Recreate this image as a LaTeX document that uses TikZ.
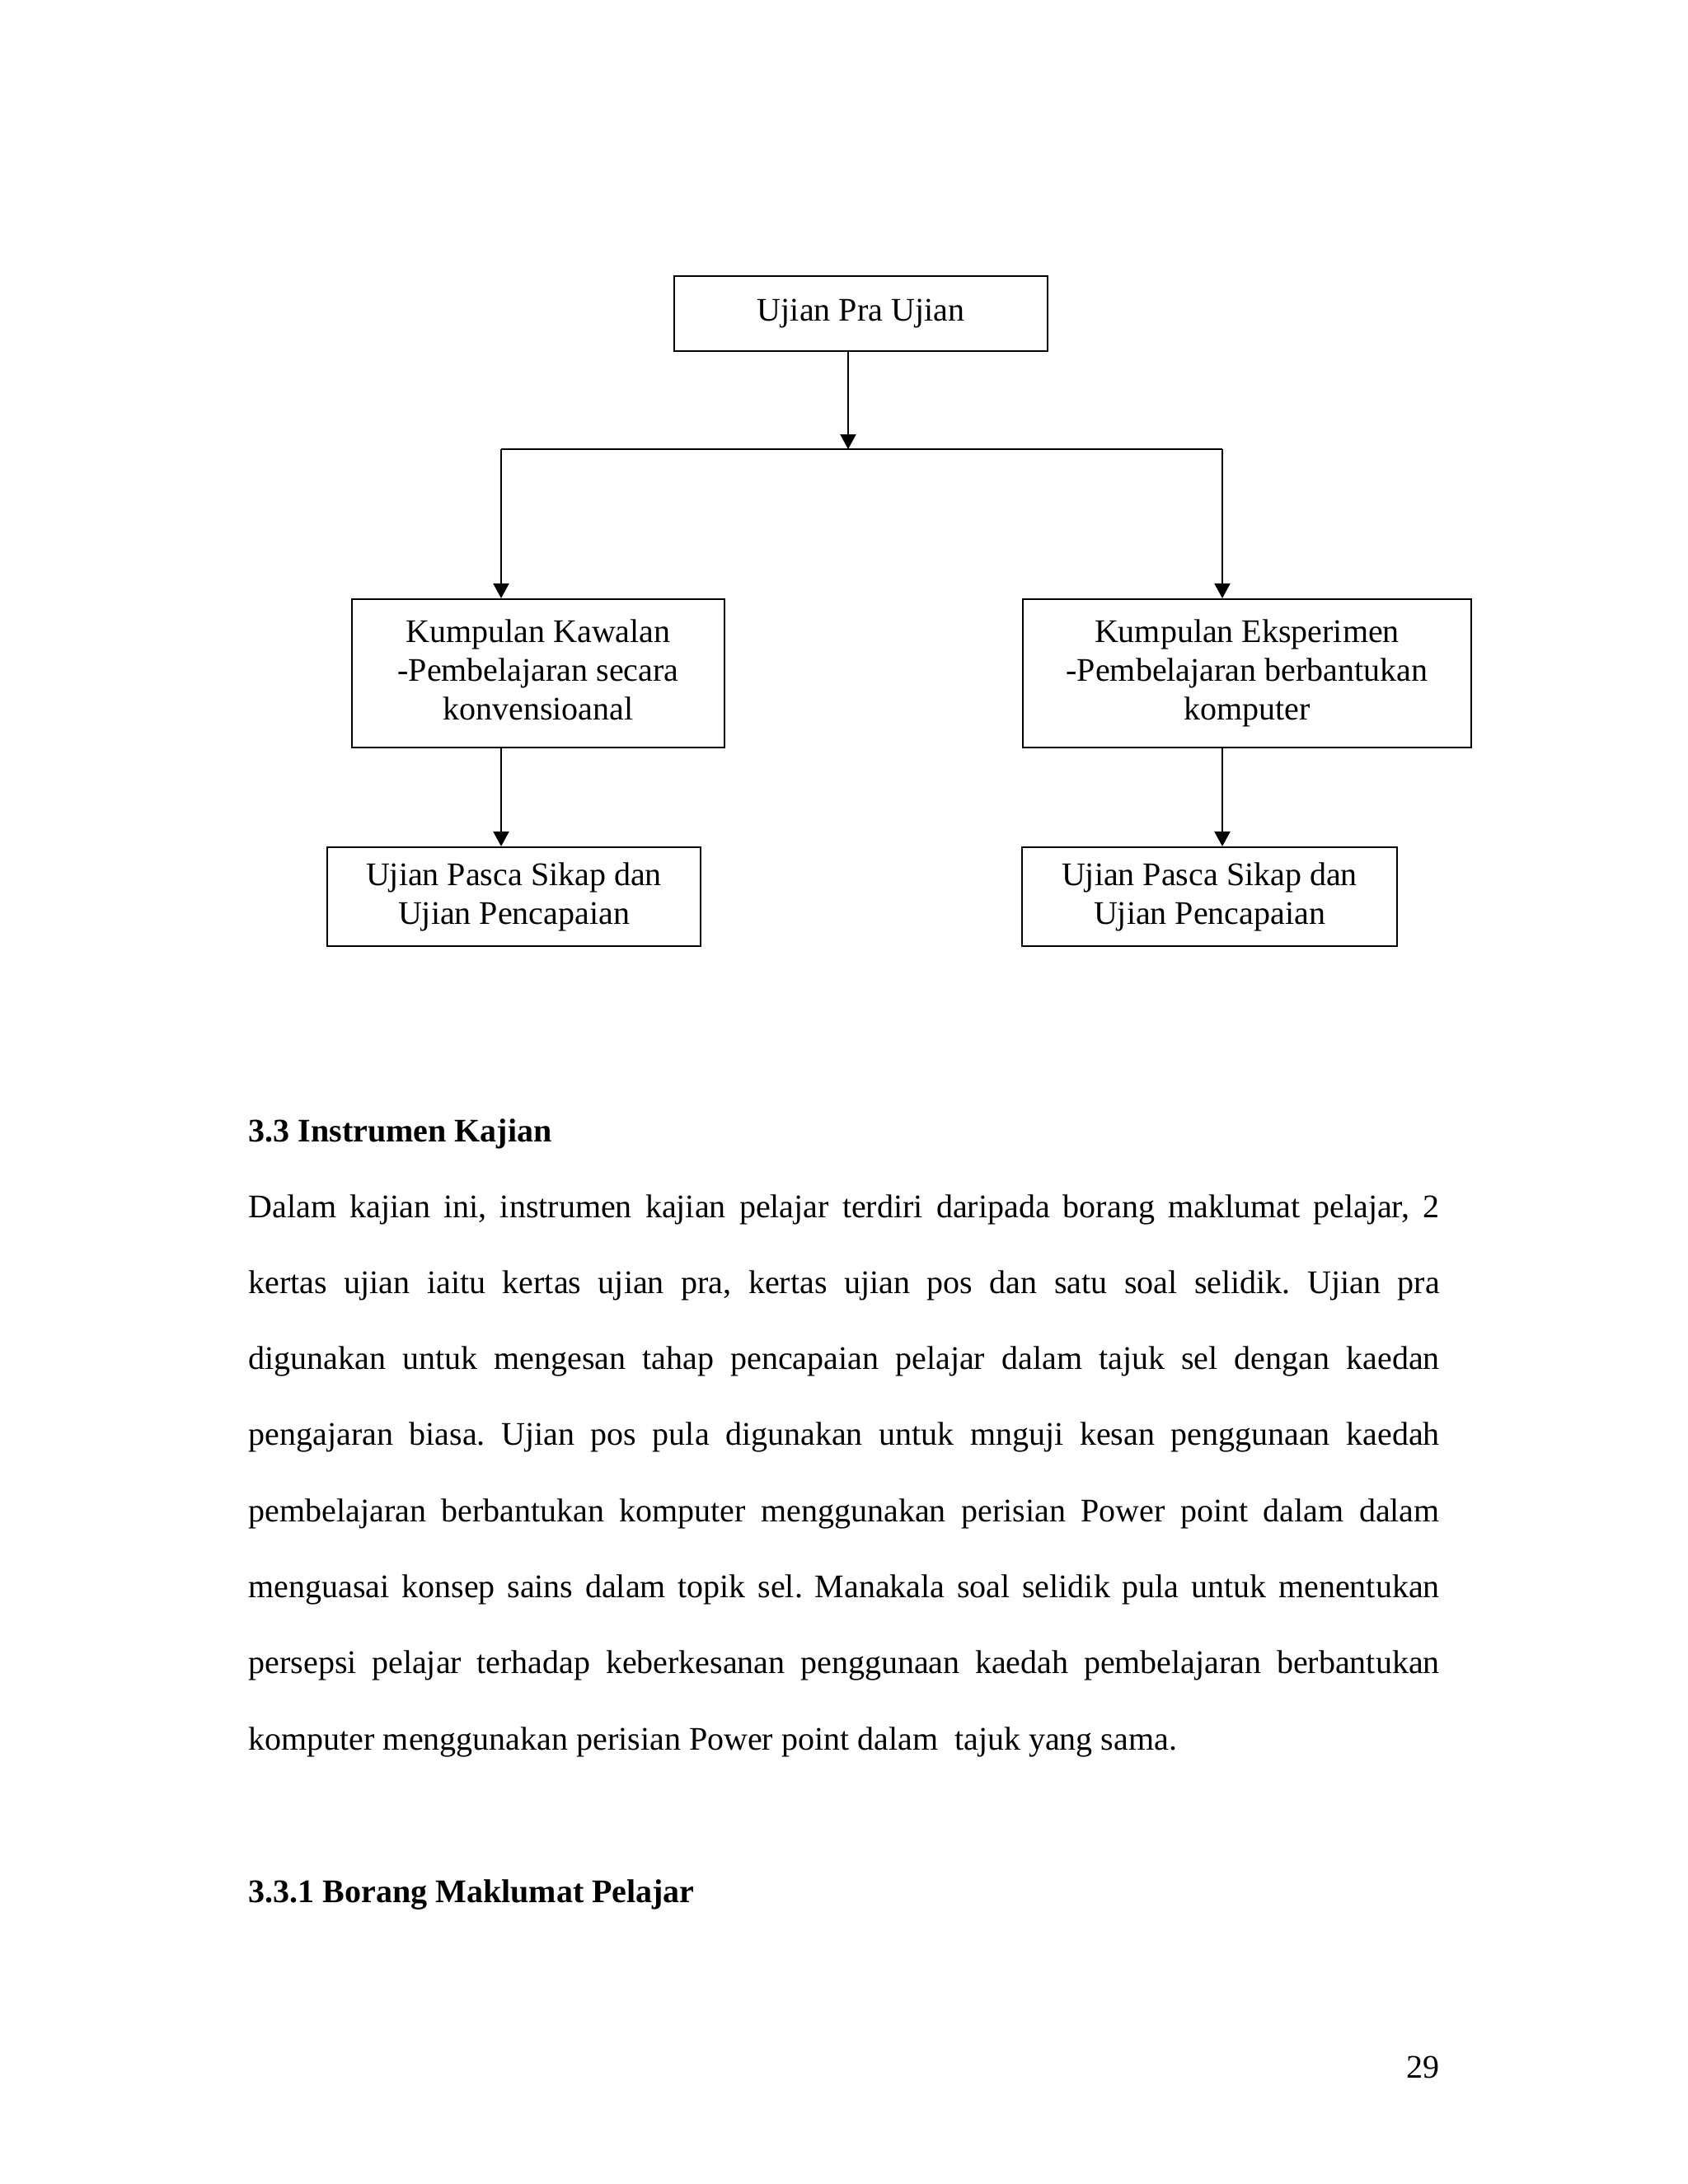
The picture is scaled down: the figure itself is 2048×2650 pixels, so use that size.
\documentclass[tikz,border=0pt]{standalone}
\usepackage{fontspec}
\setmainfont{Liberation Serif}
\usetikzlibrary{arrows.meta}
\frenchspacing
\begin{document}
\begin{tikzpicture}[x=0.3pt,y=-0.3pt,
  box/.style={draw, line width=0.65pt, align=center, inner sep=0pt, font=\fontsize{12}{14.1}\selectfont},
  arr/.style={line width=0.65pt, -{Triangle[length=5.4pt,width=5.7pt]}},
  ln/.style={line width=0.65pt},
  body/.style={anchor=base west, inner sep=0pt, font=\fontsize{12}{14}\selectfont\frenchspacing},
  head/.style={anchor=base west, inner sep=0pt, font=\fontsize{12}{14}\selectfont\bfseries}]
\useasboundingbox (0,0) rectangle (2048,2650);
% boxes
\node[box, minimum width=135.9pt, minimum height=27.3pt] (top) at (1044.5,380.5) {Ujian Pra Ujian};
\node[box, minimum width=135.6pt, minimum height=54pt] (left) at (653,817) {Kumpulan Kawalan\\-Pembelajaran secara\\konvensioanal\vphantom{p}};
\node[box, minimum width=163.2pt, minimum height=54pt] (right) at (1513,817) {Kumpulan Eksperimen\\-Pembelajaran berbantukan\\komputer};
\node[box, minimum width=135.9pt, minimum height=36pt] (bl) at (623.5,1088) {Ujian Pasca Sikap dan\\Ujian Pencapaian};
\node[box, minimum width=136.5pt, minimum height=36pt] (br) at (1467.5,1088) {Ujian Pasca Sikap dan\\Ujian Pencapaian};
% connectors
\coordinate (j) at (1029,545);
\coordinate (jl) at (608,545);
\coordinate (jr) at (1483,545);
\draw[arr] (top.south -| j) -- (j);
\draw[ln] (jl) -- (jr);
\draw[arr] (jl) -- (left.north -| jl);
\draw[arr] (jr) -- (right.north -| jr);
\draw[arr] (left.south -| jl) -- (bl.north -| jl);
\draw[arr] (right.south -| jr) -- (br.north -| jr);
% text
\node[head] (h1) at (301,1385) {3.3 Instrumen Kajian};
\node[body] (p1) at (301,1477.0) {\makebox[433.5pt][s]{Dalam kajian ini, instrumen kajian pelajar terdiri daripada borang maklumat pelajar, 2}};
\node[body] (p2) at (301,1569.3) {\makebox[433.5pt][s]{kertas ujian iaitu kertas ujian pra, kertas ujian pos dan satu soal selidik. Ujian pra}};
\node[body] (p3) at (301,1661.6) {\makebox[433.5pt][s]{digunakan untuk mengesan tahap pencapaian pelajar dalam tajuk sel dengan kaedan}};
\node[body] (p4) at (301,1753.9) {\makebox[433.5pt][s]{pengajaran biasa. Ujian pos pula digunakan untuk mnguji kesan penggunaan kaedah}};
\node[body] (p5) at (301,1846.2) {\makebox[433.5pt][s]{pembelajaran berbantukan komputer menggunakan perisian Power point dalam dalam}};
\node[body] (p6) at (301,1938.5) {\makebox[433.5pt][s]{menguasai konsep sains dalam topik sel. Manakala soal selidik pula untuk menentukan}};
\node[body] (p7) at (301,2030.8) {\makebox[433.5pt][s]{persepsi pelajar terhadap keberkesanan penggunaan kaedah pembelajaran berbantukan}};
\node[body] (p8) at (301,2123.1) {komputer menggunakan perisian Power point dalam\ \ tajuk yang sama.};
\node[head] (h2) at (301,2308) {3.3.1 Borang Maklumat Pelajar};
\node[body, anchor=base east] (pg) at (1747,2521) {29};
\end{tikzpicture}
\end{document}
